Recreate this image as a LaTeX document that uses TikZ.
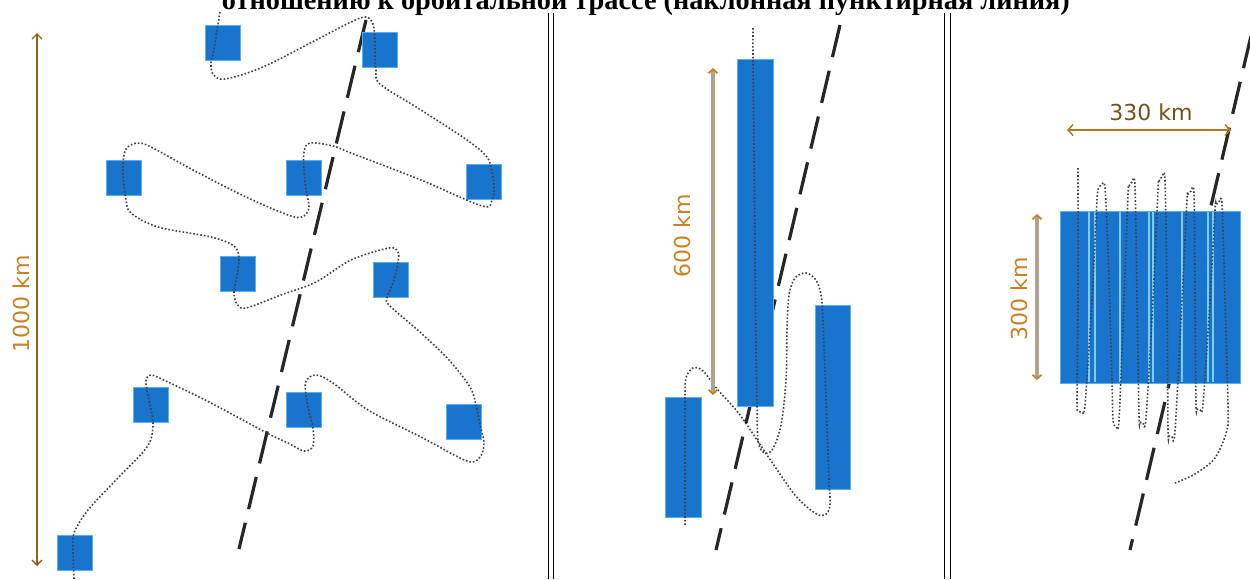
\documentclass[tikz,border=0pt]{standalone}
\usepackage{fontspec}
\usetikzlibrary{arrows.meta}
\newfontfamily\labfont{DejaVu Sans}
\newfontfamily\ttlfont{Liberation Serif}
\definecolor{sqblue}{RGB}{24,116,205}
\definecolor{sqedge}{RGB}{90,176,238}
\definecolor{lightln}{RGB}{125,205,242}
\definecolor{brarrow}{RGB}{140,100,30}
\definecolor{orlabel}{RGB}{200,130,35}
\definecolor{tanbar}{RGB}{178,162,142}
\definecolor{orarrow}{RGB}{185,120,40}
\definecolor{darklabel}{RGB}{110,85,25}
\tikzset{
  sep/.style={draw=black, line width=1pt},
  orbit/.style={draw=black!85, line width=3.2pt, dash pattern=on 33pt off 14pt},
  sq/.style={fill=sqblue, draw=sqedge, line width=0.8pt, minimum size=35pt, inner sep=0pt},
  bar/.style={fill=sqblue, draw=sqedge, line width=0.8pt, inner sep=0pt},
  dotpath/.style={draw=black!75, line width=1.6pt, dash pattern=on 1.6pt off 2pt},
  lab/.style={font=\labfont\fontsize{22}{26}\selectfont, inner sep=0pt},
  thinarrow/.style={draw=brarrow, line width=1.3pt, {Straight Barb[length=5pt,width=10pt]}-{Straight Barb[length=5pt,width=10pt]}},
  thickarrow/.style={draw=tanbar, line width=3.5pt, {Straight Barb[length=4pt,width=9pt,line width=1.8pt,color=orlabel]}-{Straight Barb[length=4pt,width=9pt,line width=1.8pt,color=orlabel]}},
  harrow/.style={draw=orarrow, line width=2pt, {Straight Barb[length=5pt,width=11pt,line width=1.5pt]}-{Straight Barb[length=5pt,width=11pt,line width=1.5pt]}}
}
\begin{document}
\begin{tikzpicture}[x=1pt,y=-1pt]
\useasboundingbox (0,0) rectangle (1250,579);
\fill[white] (0,0) rectangle (1250,579);
% separators
\coordinate (sa1) at (548,13); \coordinate (sa2) at (548,579);
\coordinate (sb1) at (553,13); \coordinate (sb2) at (553,579);
\coordinate (sc1) at (944.5,13); \coordinate (sc2) at (944.5,579);
\coordinate (sd1) at (950,13); \coordinate (sd2) at (950,579);
\draw[sep] (sa1) -- (sa2); \draw[sep] (sb1) -- (sb2);
\draw[sep] (sc1) -- (sc2); \draw[sep] (sd1) -- (sd2);
% orbit lines
\coordinate (o1a) at (366,20); \coordinate (o1b) at (239,549);
\coordinate (o2a) at (840,25); \coordinate (o2b) at (716,550);
\coordinate (o3a) at (1251,36); \coordinate (o3b) at (1130,550);
\draw[orbit] (o1a) -- (o1b);
\draw[orbit] (o2a) -- (o2b);
\draw[orbit] (o3a) -- (o3b);
% panel 1 squares
\node[sq] (s1) at (222.5,42.5) {};
\node[sq] (s2) at (380,50) {};
\node[sq] (s3) at (124,177.5) {};
\node[sq] (s4) at (303.5,177.5) {};
\node[sq] (s5) at (484,182) {};
\node[sq] (s6) at (238,273.5) {};
\node[sq] (s7) at (391,280) {};
\node[sq] (s8) at (151,405) {};
\node[sq] (s9) at (303.5,410) {};
\node[sq] (s10) at (464,422) {};
\node[sq] (s11) at (74.5,553) {};
% panel 2 bars
\node[bar, minimum width=36pt, minimum height=347pt] (tall) at (755,232.5) {};
\node[bar, minimum width=36pt, minimum height=120pt] (leftbar) at (683,457) {};
\node[bar, minimum width=35pt, minimum height=184pt] (rightbar) at (832.5,397) {};
% panel 3 strip
\node[bar, minimum width=180pt, minimum height=172pt] (strip) at (1150,297) {};
\foreach \xx in {1089,1095,1120,1149,1153,1182,1208,1213}
  \draw[lightln, line width=1.2pt] (\xx,212) -- (\xx,382);
% dotted paths
\draw[dotpath] plot[smooth, tension=0.55] coordinates {
(220,12) (217,30) (214,50) (211,63) (213,74) (225,79) (263,67) (316,40) (351,22) (366,17) (373,24) (375,40) (375,55) (376,70) (380,84) (421,110) (467,140) (487,157) (492,172) (494,188) (492,200) (482,206) (421,180) (351,153) (333,146) (310,143) (304,152) (304,170) (306,190) (309,208) (302,217) (288,215) (246,197) (193,170) (151,147) (137,143) (126,149) (123,165) (124,185) (126,200) (131,213) (158,227) (211,237) (234,246) (239,258) (237,275) (234,292) (237,304) (246,308) (281,295) (316,282) (351,260) (389,248) (398,252) (398,262) (394,280) (387,298) (390,306) (421,333) (449,360) (470,387) (476,405) (480,425) (484,443) (480,457) (467,461) (421,437) (368,410) (333,383) (316,375) (306,381) (306,395) (309,412) (313,428) (313,446) (304,451) (288,443) (267,433) (211,403) (168,382) (151,375) (146,381) (148,395) (151,410) (153,426) (147,447) (116,480) (88,510) (74,533) (73,550) (74,579)};
\draw[dotpath] plot[smooth, tension=0.55] coordinates {
(753,28) (753,60) (754,150) (755,250) (756,350) (757,405) (758,440) (763,452) (772,450) (781,425) (786,380) (787,330) (789,295) (795,278) (806,273) (816,280) (821,295) (823,320) (826,400) (829,480) (830,505) (825,515) (815,513) (795,495) (767,455) (740,415) (718,390) (703,371) (693,368) (686,378) (685,400) (685,460) (685,526)};
\draw[dotpath] plot[smooth, tension=0.5] coordinates {
(1078,168) (1078,300) (1077,400) (1078,410) (1082,412) (1085,405)
(1092,300) (1097,200) (1099,188) (1102,184) (1105,188)
(1108,250) (1112,380) (1113,420) (1116,426) (1119,420)
(1124,300) (1128,195) (1129,186) (1132,182) (1135,186)
(1137,300) (1139,415) (1140,422) (1143,423) (1146,418)
(1153,300) (1158,190) (1159,181) (1162,177) (1165,181)
(1167,300) (1168,430) (1169,436) (1172,437) (1175,431)
(1182,300) (1187,200) (1188,194) (1191,191) (1194,194)
(1195,300) (1196,404) (1197,409) (1200,410) (1203,404)
(1210,300) (1215,210) (1216,205) (1219,202) (1222,205)
(1225,300) (1228,405) (1227,430) (1215,458) (1195,474) (1175,483)};
% dimension arrows
\coordinate (a1t) at (37,33); \coordinate (a1b) at (37,566);
\draw[thinarrow] (a1t) -- (a1b);
\coordinate (a2t) at (713,68); \coordinate (a2b) at (713,395);
\draw[thickarrow] (a2t) -- (a2b);
\coordinate (a3t) at (1037,214); \coordinate (a3b) at (1037,380);
\draw[thickarrow] (a3t) -- (a3b);
\coordinate (a4l) at (1067,130); \coordinate (a4r) at (1231,130);
\draw[harrow] (a4l) -- (a4r);
% labels
\node[lab, text=orlabel, rotate=90] (l1000) at (21,304) {1000 km};
\node[lab, text=orlabel, rotate=90] (l600) at (682,236) {600 km};
\node[lab, text=orlabel, rotate=90] (l300) at (1019,299) {300 km};
\node[lab, text=darklabel] (l330) at (1151,112) {330 km};
% title (cut at top, as in the reference)
\node[anchor=base, inner sep=0pt] (title) at (646,9) {\resizebox{848pt}{!}{\ttlfont\bfseries\fontsize{28}{32}\selectfont отношению к орбитальной трассе (наклонная пунктирная линия)}};
\end{tikzpicture}
\end{document}
